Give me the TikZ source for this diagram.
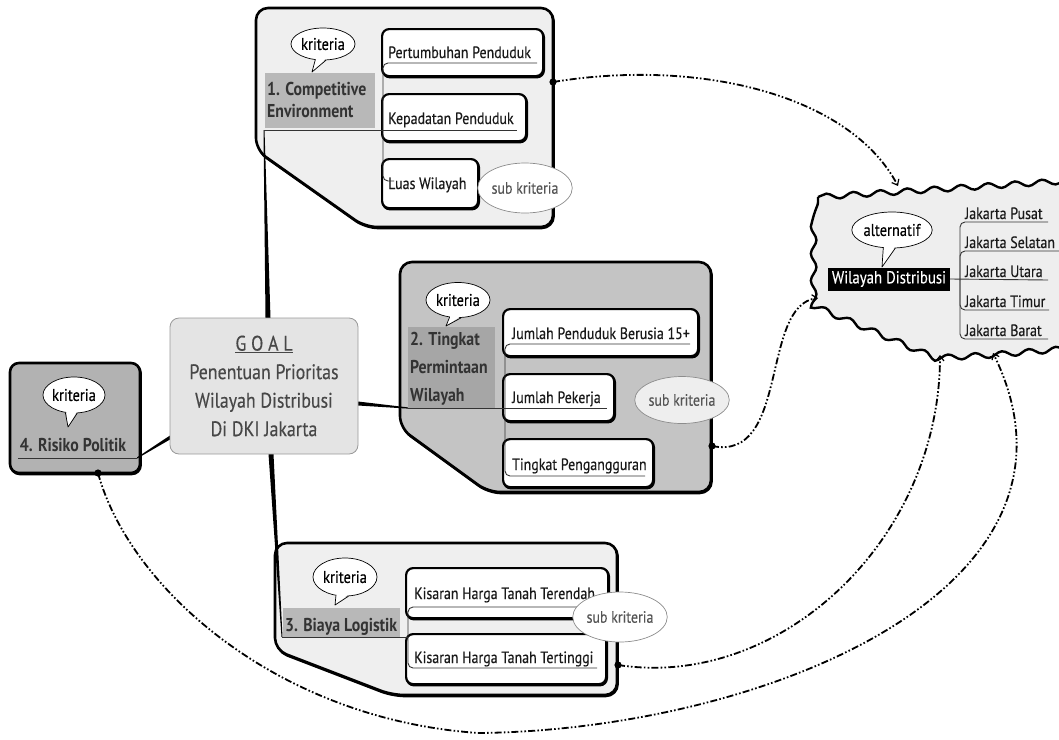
\documentclass[tikz,border=0pt]{standalone}
\usepackage{fontspec}
\setmainfont[FakeStretch=0.85]{PT Sans}
\newfontfamily\denser[FakeStretch=0.85,FakeBold=0.35]{PT Sans}
\usetikzlibrary{arrows.meta,calc,decorations.pathmorphing,shapes.geometric}

\definecolor{panelpale}{HTML}{EFEFEF}
\definecolor{panelmid}{HTML}{C4C4C4}
\definecolor{tagpale}{HTML}{B8B8B8}
\definecolor{tagmid}{HTML}{A6A6A6}
\definecolor{riskgray}{HTML}{B2B2B2}
\definecolor{goalgray}{HTML}{E4E4E4}
\definecolor{goalink}{HTML}{474747}
\definecolor{softink}{HTML}{555555}
\definecolor{altpale}{HTML}{EEEEEE}

\newcommand\fs[2]{\fontsize{#1}{#2}\selectfont}

% speech bubble: name, centre, width, height, text, tail tip
\newcommand\talkbubble[6]{%
  \node[bubble, minimum width=#3, minimum height=#4] (#1) at (#2) {#5};
  \fill[white] ($(#1.-116)!1.6pt!(#1.center)$) -- (#6) -- ($(#1.-80)!1.6pt!(#1.center)$) -- cycle;
  \draw[line width=0.7pt, line join=round] (#1.-116) -- (#6) -- (#1.-80);
}

\tikzset{
  shade under/.style={preaction={draw=black, line width=2.2pt, transform canvas={shift={(0.8pt,-1.2pt)}}}},
  panel/.style={draw=black, line width=2.6pt, rounded corners=12pt, line join=round, shade under},
  item/.style={draw=black, line width=2.2pt, fill=white, rounded corners=7pt, inner sep=0pt,
    anchor=north west, shade under},
  itemtext/.style={anchor=base west, inner sep=0pt, font=\denser\fs{16.4}{19}, text=black!90},
  tagbox/.style={inner sep=0pt, anchor=north west},
  tagtext/.style={anchor=base west, inner sep=0pt, font=\bfseries\fs{18.6}{22}, text=black!80},
  bubble/.style={ellipse, draw=black, line width=0.7pt, fill=white, inner sep=0pt, font=\denser\fs{17}{19}},
  subbubble/.style={ellipse, draw=black!45, line width=0.7pt, fill=white, inner sep=0pt, font=\denser\fs{16.4}{19}, text=softink},
  twig/.style={line width=0.9pt, draw=black!80, rounded corners=5pt},
  flow/.style={line width=1.8pt, dash pattern=on 7pt off 2.2pt on 1.6pt off 2.2pt on 1.6pt off 2.2pt,
    -{Straight Barb[length=5pt,width=8pt,line width=1.2pt]}},
  jk/.style={anchor=base west, inner sep=0pt, font=\denser\fs{16.4}{19}, text=black!90},
}

\begin{document}
\begin{tikzpicture}[x=1pt,y=-1pt]
\useasboundingbox (0,0) rectangle (1059,739);

% ---------- criterion panels ----------
\draw[panel, fill=panelpale] (256,150) -- (256,8) -- (553,8) -- (553,227) -- (365,227) -- cycle;
\draw[panel, fill=panelmid] (400,428) -- (400,262) -- (711,262) -- (711,492) -- (488,492) -- cycle;
\draw[panel, fill=panelpale] (275,650) -- (275,543) -- (617,543) -- (617,695) -- (392,695) -- cycle;
\node[draw=black, line width=2.6pt, rounded corners=9pt, fill=riskgray, minimum width=130pt,
      minimum height=110pt, inner sep=0pt, shade under] (risk) at (75,418) {};

% ---------- alternatives panel ----------
\draw[line width=2.4pt, fill=altpale, decorate, decoration={snake, segment length=27pt, amplitude=2.8pt}]
  (818,197) -- (1080,180) -- (1080,344) -- (995,351) -- (937,354) -- (818,303) -- cycle;

% ---------- hub points ----------
\coordinate (hub1) at (264,130);
\coordinate (hub2) at (408,408);
\coordinate (hub3) at (282,637);
\coordinate (hub4) at (137,458);
\coordinate (g1) at (268,318);
\coordinate (g2) at (271,454);
\coordinate (g3) at (358,403.5);
\coordinate (g4) at (170,437.5);

% tapered branches from the goal
\fill ($(g1)+(-2.5,0)$) -- ($(g1)+(2.5,0)$) -- ($(hub1)+(0.5,0)$) -- ($(hub1)+(-0.5,0)$) -- cycle;
\fill ($(g2)+(-2.5,0)$) -- ($(g2)+(2.5,0)$) -- ($(hub3)+(0.5,0)$) -- ($(hub3)+(-0.5,0)$) -- cycle;
\fill ($(g3)+(0,-2)$) -- ($(g3)+(0,2)$) -- ($(hub2)+(0,0.6)$) -- ($(hub2)+(0,-0.6)$) -- cycle;
\fill ($(g4)+(0,-2)$) -- ($(g4)+(0,2)$) -- ($(hub4)+(0,0.6)$) -- ($(hub4)+(0,-0.6)$) -- cycle;

% ---------- goal ----------
\node[draw=black!40, line width=0.8pt, fill=goalgray, rounded corners=9pt, minimum width=188pt,
      minimum height=136pt, inner sep=0pt] (goal) at (264,386) {};
\node[align=center, font=\denser\fs{21}{28.5}, text=goalink, inner sep=0pt] (goaltxt) at (264,386)
  {\underline{G\ O\ A\ L}\\Penentuan Prioritas\\Wilayah Distribusi\\Di DKI Jakarta};

% ---------- panel 1 ----------
\node[tagbox, fill=tagpale, minimum width=110pt, minimum height=55pt] (tag1) at (265,73) {};
\node[tagtext] (t1a) at (267,95) {1. Competitive};
\node[tagtext] (t1b) at (267,117) {Environment};
\node[item, minimum width=161pt, minimum height=47pt] (p1) at (381,28) {};
\node[item, minimum width=144pt, minimum height=47pt] (p2) at (381,93) {};
\node[item, minimum width=96pt, minimum height=49pt] (p3) at (381,158) {};
\node[itemtext] (p1t) at (388,58) {Pertumbuhan Penduduk};
\node[itemtext] (p2t) at (388,124) {Kepadatan Penduduk};
\node[itemtext] (p3t) at (388,189) {Luas Wilayah};
\draw[twig] (hub1) -- (517,130);
\draw[twig] (383,130) |- (537,63);
\draw[twig] (383,130) |- (394,181);
\node[subbubble, minimum width=84pt, minimum height=50pt] (s1) at (525,188) {sub kriteria};
\talkbubble{k1}{323,44}{64pt}{32pt}{kriteria}{312,72}

% ---------- panel 2 ----------
\node[tagbox, fill=tagmid, minimum width=87pt, minimum height=81pt] (tag2) at (408,327) {};
\node[tagtext] (t2a) at (410,345) {2. Tingkat};
\node[tagtext] (t2b) at (410,373) {Permintaan};
\node[tagtext] (t2c) at (410,401) {Wilayah};
\node[item, minimum width=195pt, minimum height=47pt] (j1) at (502,308) {};
\node[item, minimum width=111pt, minimum height=47pt] (j2) at (502,373) {};
\node[item, minimum width=150pt, minimum height=48pt] (j3) at (502,438) {};
\node[itemtext] (j1t) at (512,339) {Jumlah Penduduk Berusia 15+};
\node[itemtext] (j2t) at (512,403) {Jumlah Pekerja};
\node[itemtext] (j3t) at (512,470) {Tingkat Pengangguran};
\draw[twig] (hub2) -- (607,408);
\draw[twig] (505,408) |- (690,344);
\draw[twig] (505,408) |- (645,476);
\node[subbubble, fill=altpale, minimum width=85pt, minimum height=47pt] (s2) at (682,400) {sub kriteria};
\talkbubble{k2}{458,300}{64pt}{35pt}{kriteria}{446,326}

% ---------- panel 3 ----------
\node[tagbox, fill=tagpale, minimum width=117pt, minimum height=29pt] (tag3) at (283,608) {};
\node[tagtext] (t3) at (285,631) {3. Biaya Logistik};
\node[item, minimum width=202pt, minimum height=50pt] (q1) at (405,567) {};
\node[item, minimum width=200pt, minimum height=50pt] (q2) at (405,633) {};
\node[itemtext] (q1t) at (414,599) {Kisaran Harga Tanah Terendah};
\node[itemtext] (q2t) at (414,663) {Kisaran Harga Tanah Tertinggi};
\draw[twig] (hub3) -- (408,637);
\draw[twig] (408,637) |- (600,607);
\draw[twig] (408,637) |- (597,668);
\node[subbubble, minimum width=85pt, minimum height=50pt] (s3) at (620,617) {sub kriteria};
\talkbubble{k3}{345,577}{64pt}{38pt}{kriteria}{335,605}

% ---------- panel 4 ----------
\node[font=\bfseries\fs{18.6}{22}, text=black!80, inner sep=0pt, anchor=base] (t4) at (73,451) {4. Risiko Politik};
\draw[twig] (18,458) -- (hub4);
\talkbubble{k4}{74,395}{62pt}{36pt}{kriteria}{68,427}

% ---------- alternatives ----------
\node[fill=black, text=white, font=\denser\fs{17.4}{20}, inner sep=0pt, minimum width=122pt, minimum height=23pt] (wd) at (889,279) {Wilayah Distribusi};
\talkbubble{ka}{892,230}{75pt}{36pt}{alternatif}{882,267}
\draw[twig] (wd.east) -- (1048,280);
\draw[twig] (960,280) |- (1048,222);
\draw[twig] (960,280) |- (1062,251);
\draw[twig] (960,280) |- (1049,310);
\draw[twig] (960,280) |- (1048,339);
\node[jk] (jp) at (965,219) {Jakarta Pusat};
\node[jk] (js) at (965,248) {Jakarta Selatan};
\node[jk] (ju) at (965,277) {Jakarta Utara};
\node[jk] (jt) at (965,307) {Jakarta Timur};
\node[jk] (jb) at (965,336) {Jakarta Barat};

% ---------- influence links ----------
\coordinate (d1) at (553,82);
\coordinate (d2) at (712,446);
\coordinate (d3) at (618,665);
\coordinate (d4) at (98,473);
\coordinate (a1) at (898,186);
\coordinate (a2) at (818,298);
\coordinate (a3) at (940,355);
\coordinate (a4) at (993,353);
\coordinate (low) at (479,733);
\draw[flow] (d1) .. controls (700,58) and (850,95) .. (a1);
\draw[flow] (d2) .. controls (790,462) and (760,305) .. (a2);
\draw[flow] (d3) .. controls (780,690) and (940,540) .. (a3);
\draw[flow] (d4) .. controls (130,590) and (280,720) .. (low) .. controls (760,730) and (1110,590) .. (a4);
\foreach \d in {d1,d2,d3,d4} \fill (\d) circle[radius=3.6pt];
\end{tikzpicture}
\end{document}
